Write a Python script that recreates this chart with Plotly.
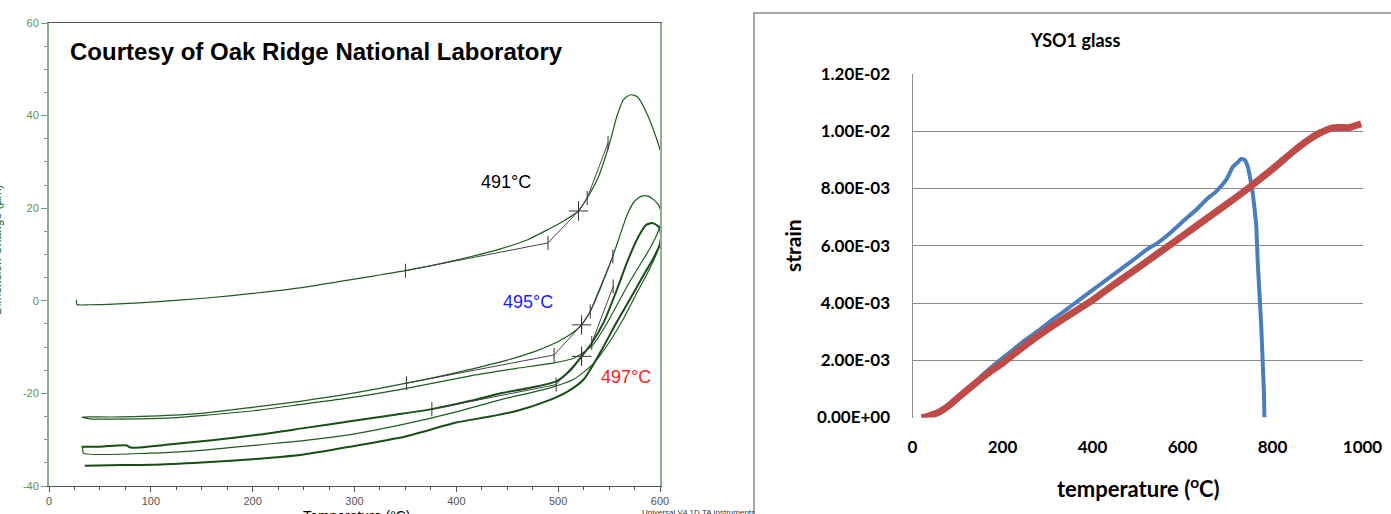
import plotly.graph_objects as go

# ---------------- Left chart (TMA, dimension change vs temperature) ----------------
# curve 491°C
x1 = [27, 27.5, 40, 68, 100, 155, 200, 250, 286, 320, 350, 400, 440, 470, 490, 505, 520, 528.5, 539.6, 551, 557.6, 564, 571, 578, 587, 597, 601]
y1 = [0.2, -0.8, -0.85, -0.65, -0.3, 0.6, 1.6, 2.9, 4.2, 5.4, 6.5, 8.8, 11.0, 13.2, 15.4, 17.2, 19.4, 22.2, 26.8, 34.4, 39.8, 43.4, 44.5, 44.0, 40.5, 34.8, 32.0]

# loop 1 (495°C): heating branch then return branch
xA = [32, 60, 100, 150, 200, 250, 300, 351, 400, 450, 480, 500, 515, 523, 531.5, 542, 553.7, 562, 568, 575, 582, 588, 594, 599, 601, 601, 597, 590, 581, 570, 558, 546, 533, 515, 496, 459, 414, 351, 300, 250, 207, 150, 122, 89, 40, 32]
yA = [-25.1, -25.1, -24.9, -24.3, -23.0, -21.6, -19.9, -17.8, -15.5, -12.8, -10.7, -8.8, -6.8, -5.2, -2.3, 3.0, 9.6, 15.0, 18.7, 21.5, 22.6, 22.6, 21.8, 20.5, 19.0, 17.0, 14.3, 11.3, 8.0, 4.0, -0.8, -5.6, -9.8, -12.4, -13.4, -14.6, -16.2, -18.9, -20.8, -22.3, -23.6, -24.8, -25.3, -25.5, -25.5, -25.1]

# loop 2 (497°C): noisy heating branch then smooth return branch
xC = [32, 50, 76, 80, 120, 160, 207, 250, 296, 340, 376, 414, 443, 470, 498, 512, 523, 533, 545, 557, 568, 578, 586, 592, 597, 600, 601]
yC = [-31.5, -31.5, -31.2, -31.7, -31.0, -30.1, -28.9, -27.5, -26.0, -24.6, -23.4, -21.6, -20.0, -18.9, -17.4, -15.0, -12.0, -9.1, -4.5, 2.0, 8.5, 13.5, 16.3, 16.8, 16.3, 15.5, 14.0]
xD = [601, 598, 590, 578, 565, 550, 535, 515, 492, 443, 400, 350, 296, 250, 207, 150, 99, 34, 33]
yD = [14.0, 11.0, 7.0, 2.0, -3.5, -9.0, -13.5, -17.0, -18.8, -21.4, -24.0, -26.6, -28.9, -30.2, -31.1, -32.3, -32.9, -32.9, -31.5]

# third noisy heating run
xE = [35, 60, 100, 150, 207, 250, 296, 350, 400, 433, 459, 492, 510, 525, 541, 557, 574, 585, 593, 601]
yE = [-35.6, -35.5, -35.4, -34.9, -34.1, -33.2, -31.5, -29.3, -26.3, -25.0, -23.8, -21.4, -19.5, -17.0, -11.3, -4.8, 1.7, 6.0, 9.0, 12.5]

# onset analysis construction lines and markers
t491_x = [350, 490, 520, 528.5, 549]
t491_y = [6.5, 12.5, 19.4, 22.2, 34.1]
t495_x = [351, 496, 523, 531.5, 553.7]
t495_y = [-17.8, -11.7, -5.2, -2.3, 9.6]
t497_x = [376, 498, 523, 533, 554]
t497_y = [-23.4, -18.1, -12.0, -9.1, 3.1]
onset_x = [520, 523, 523]
onset_y = [19.4, -5.2, -12.0]
left_yticks = [-40, -20, 0, 20, 40, 60]
left_yticktext = ["-40", "-20", "0", "20", "40", "60"]
left_xticks = [0, 100, 200, 300, 400, 500, 600]

# ---------------- Right chart (YSO1 glass strain) ----------------
temp_blue = [20, 40, 60, 80, 104, 130, 160, 190, 223, 250, 282, 310, 341, 370, 400, 430, 460, 490, 519, 545, 564, 585, 608, 630, 652, 675, 697, 712, 722, 730, 738, 745, 751, 756, 760, 764, 767, 771, 775, 778, 781, 782]
strain_blue = [0, 0.0001, 0.0002, 0.00045, 0.00075, 0.0011, 0.00155, 0.00195, 0.00236, 0.0027, 0.00306, 0.0034, 0.00376, 0.0041, 0.00445, 0.0048, 0.00515, 0.0055, 0.00585, 0.0061, 0.00633, 0.00662, 0.00695, 0.00725, 0.0076, 0.0079, 0.0083, 0.00876, 0.0089, 0.00903, 0.0090, 0.00876, 0.0083, 0.00783, 0.0073, 0.00667, 0.0055, 0.00434, 0.00318, 0.00201, 0.00085, 0]
temp_red = [20, 30, 45, 60, 80, 104, 140, 171, 200, 250, 300, 350, 401, 450, 500, 534, 600, 638, 700, 741, 800, 845, 880, 904, 934, 950, 971, 985, 997]
strain_red = [0, 0.00002, 0.0001, 0.0002, 0.0004, 0.00073, 0.0012, 0.00158, 0.0019, 0.00252, 0.00308, 0.0036, 0.00411, 0.00467, 0.00522, 0.0056, 0.00634, 0.00677, 0.00747, 0.00795, 0.00868, 0.00928, 0.0097, 0.00993, 0.01012, 0.01013, 0.01013, 0.0102, 0.01026]
y_ticks = [0, 0.002, 0.004, 0.006, 0.008, 0.010, 0.012]
y_ticktext = ["0.00E+00", "2.00E-03", "4.00E-03", "6.00E-03", "8.00E-03", "1.00E-02", "1.20E-02"]
x_ticks = [0, 200, 400, 600, 800, 1000]

W, H = 1391, 514
GREEN = "#1f5a1f"
fig = go.Figure()

def px_x(p):
    return p / W

def px_y(p):
    return (H - p) / H

sm = dict(shape="spline", smoothing=0.6)
fig.add_trace(go.Scatter(x=x1, y=y1, mode="lines", line=dict(color=GREEN, width=1.2, **sm), xaxis="x", yaxis="y"))
fig.add_trace(go.Scatter(x=xA, y=yA, mode="lines", line=dict(color=GREEN, width=1.2, **sm), xaxis="x", yaxis="y"))
fig.add_trace(go.Scatter(x=xC, y=yC, mode="lines", line=dict(color="#174d17", width=2, **sm), xaxis="x", yaxis="y"))
fig.add_trace(go.Scatter(x=xD, y=yD, mode="lines", line=dict(color=GREEN, width=1.2, **sm), xaxis="x", yaxis="y"))
fig.add_trace(go.Scatter(x=xE, y=yE, mode="lines", line=dict(color="#174d17", width=2, **sm), xaxis="x", yaxis="y"))

for tx, ty in [(t491_x, t491_y), (t495_x, t495_y), (t497_x, t497_y)]:
    fig.add_trace(go.Scatter(x=tx, y=ty, mode="lines+markers", line=dict(color="#444", width=1),
                             marker=dict(symbol="line-ns", size=10, color="#333", line=dict(width=1, color="#333")),
                             xaxis="x", yaxis="y"))
fig.add_trace(go.Scatter(x=onset_x, y=onset_y, mode="markers",
                         marker=dict(symbol="cross-thin", size=14, color="#333", line=dict(width=1, color="#333")),
                         xaxis="x", yaxis="y"))

fig.add_trace(go.Scatter(x=temp_blue, y=strain_blue, mode="lines", line=dict(color="#4a7ebb", width=4, shape="spline", smoothing=0.6),
                         xaxis="x2", yaxis="y2"))
fig.add_trace(go.Scatter(x=temp_red, y=strain_red, mode="lines", line=dict(color="#be4b48", width=7, shape="spline", smoothing=0.6),
                         xaxis="x2", yaxis="y2"))

left_font = dict(family="Liberation Sans, Arial, sans-serif", size=11)
right_font = dict(family="Lato, Open Sans, sans-serif", size=17, color="black", weight="bold")

fig.update_layout(
    width=W, height=H, margin=dict(l=0, r=0, t=0, b=0),
    paper_bgcolor="white", plot_bgcolor="white", showlegend=False, template="none",
    xaxis=dict(domain=[px_x(49), px_x(660)], range=[0, 600], anchor="y",
               showline=True, linecolor="#555", linewidth=1, mirror=True,
               showgrid=False, zeroline=False, ticks="outside", ticklen=5, tickcolor="#555",
               tickvals=left_xticks,
               minor=dict(dtick=25, ticks="outside", ticklen=3, tickcolor="#555", showgrid=False),
               tickfont=dict(color="#555", **left_font)),
    yaxis=dict(domain=[px_y(486), px_y(23)], range=[-40, 60], anchor="x",
               showline=True, linecolor="#8fb08f", linewidth=2, mirror=True,
               showgrid=False, zeroline=False, ticks="outside", ticklen=6, tickcolor="#6f9a6f",
               tickvals=left_yticks, ticktext=left_yticktext,
               minor=dict(dtick=5, ticks="outside", ticklen=3, tickcolor="#6f9a6f", showgrid=False),
               tickfont=dict(color="#5b8f5b", **left_font)),
    xaxis2=dict(domain=[px_x(912.5), px_x(1362.5)], range=[0, 1000], anchor="y2",
                showline=False, showgrid=False, zeroline=False, ticks="",
                tickvals=x_ticks, ticklabelstandoff=17,
                tickfont=right_font),
    yaxis2=dict(domain=[px_y(417.5), px_y(74)], range=[0, 0.012], anchor="x2",
                showline=True, linecolor="#8c8c8c", linewidth=1,
                showgrid=True, gridcolor="#8c8c8c", gridwidth=1, zeroline=False, ticks="",
                tickvals=y_ticks, ticktext=y_ticktext, ticklabelstandoff=18,
                tickfont=right_font),
)

fig.add_shape(type="rect", xref="paper", yref="paper",
              x0=px_x(754), x1=1.02, y0=-0.1, y1=px_y(13),
              line=dict(color="#8a8a8a", width=1.5), fillcolor="rgba(0,0,0,0)", layer="below")

def note(text, x, y, size, color="black", family="Liberation Sans, Arial", xanchor="center", yanchor="middle", angle=0):
    return dict(text=text, x=px_x(x), y=px_y(y), xref="paper", yref="paper", showarrow=False,
                xanchor=xanchor, yanchor=yanchor, textangle=angle,
                font=dict(family=family, size=size, color=color))

LATO = "Lato, Open Sans, sans-serif"
ann = [
    note("<b>Courtesy of Oak Ridge National Laboratory</b>", 316, 52, 24),
    note("491°C", 506, 182, 18),
    note("495°C", 528, 302, 18, color="#1a1aff"),
    note("497°C", 626, 377, 18, color="#ff2020"),
    note("Dimension Change (µm)", -3, 250, 12, color="#1f6a1f", angle=-90),
    note("Temperature (°C)", 357, 506, 14, yanchor="top"),
    note("Universal V4.1D TA Instruments", 640, 506, 8, color="#333", xanchor="left", yanchor="top"),
    note("<b>YSO1 glass</b>", 1075, 40, 18, family=LATO),
    note("<b>strain</b>", 793, 245, 21, family=LATO, angle=-90),
    note("<b>temperature (<sup>o</sup>C)</b>", 1138, 487, 22, family=LATO),
]
fig.update_layout(annotations=ann)

fig.write_html("out.html")
